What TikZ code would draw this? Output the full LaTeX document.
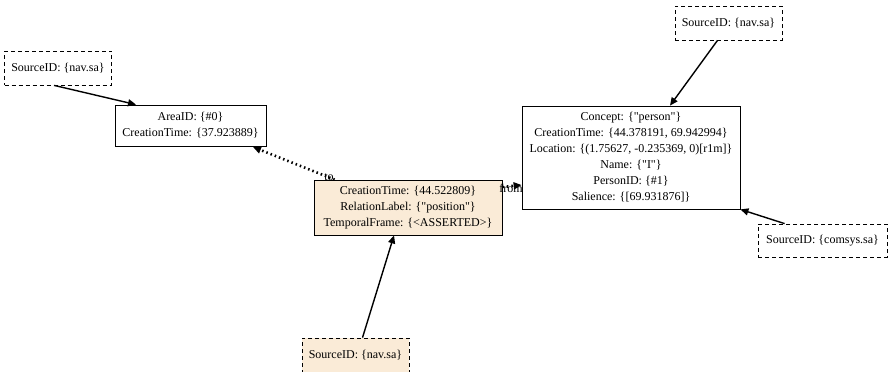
\documentclass[tikz,border=0pt]{standalone}
\usepackage{fontspec}
\setmainfont{Liberation Serif}[Ligatures=TeXOff]
\usetikzlibrary{arrows.meta}
\definecolor{beige}{RGB}{250,235,215}
\begin{document}
\begin{tikzpicture}[x=1pt,y=-1pt,
  box/.style={draw, line width=0.8pt, align=center, inner sep=0pt, font=\fontsize{12}{16}\selectfont},
  src/.style={box, dashed, dash pattern=on 4pt off 3pt},
  edge/.style={line width=1.4pt, -{Triangle[length=8pt,width=7pt]}},
  dotedge/.style={line width=2.6pt, dash pattern=on 1.5pt off 3pt, -{Triangle[length=8pt,width=7pt]}},
  lbl/.style={font=\fontsize{12}{12}\selectfont, inner sep=0pt}]
\useasboundingbox (0,0) rectangle (894,372);
\node[src, minimum width=107pt, minimum height=34pt] (s1) at (58,68) {SourceID: \{nav.sa\}};
\node[box, minimum width=151pt, minimum height=41pt] (area) at (190.5,125.5) {AreaID: \{\#0\}\\CreationTime: \{37.923889\}};
\node[box, fill=beige, minimum width=188pt, minimum height=55pt] (rel) at (408,207.5) {CreationTime: \{44.522809\}\\RelationLabel: \{"position"\}\\TemporalFrame: \{<ASSERTED>\}};
\node[box, minimum width=218pt, minimum height=103pt] (per) at (631,157.5) {Concept: \{"person"\}\\CreationTime: \{44.378191, 69.942994\}\\Location: \{(1.75627, -0.235369, 0)[r1m]\}\\Name: \{"I"\}\\PersonID: \{\#1\}\\Salience: \{[69.931876]\}};
\node[src, minimum width=107pt, minimum height=34pt] (s2) at (728.5,23) {SourceID: \{nav.sa\}};
\node[src, minimum width=129pt, minimum height=33pt] (s3) at (822.5,240.5) {SourceID: \{comsys.sa\}};
\node[src, fill=beige, minimum width=107pt, minimum height=34pt] (s4) at (355.5,355) {SourceID: \{nav.sa\}};
\draw[edge] (s1.south west) ++(50,0) coordinate (a1) -- (area.north west -| 136,0) ;
\draw[dotedge] (rel.north west) ++(21,0) coordinate (a2) -- (253,147);
\node[lbl] (to) at (329,177) {to};
\draw[dotedge] (rel.east |- 0,187) -- (per.west |- 0,185);
\node[lbl] (from) at (511,188) {from};
\draw[edge] (s2.south) ++(-11,0) -- (per.north -| 670,0);
\draw[edge] (s3.north west) ++(27,0) -- (per.south east);
\draw[edge] (s4.north) ++(7,0) -- (rel.south -| 394,0);
\end{tikzpicture}
\end{document}
